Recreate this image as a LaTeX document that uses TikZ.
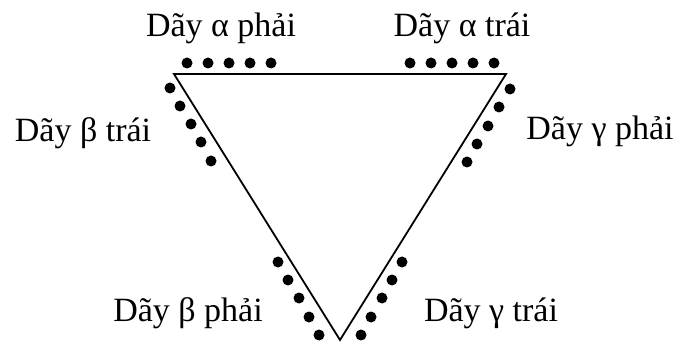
\documentclass[tikz,border=0pt]{standalone}
\usepackage{fontspec}
\setmainfont{Liberation Serif}
\begin{document}
\begin{tikzpicture}[x=1pt,y=-1pt,
  lbl/.style={font=\fontsize{34}{38}\selectfont, inner sep=0pt, anchor=base},
  dot/.style={circle, fill=black, inner sep=0pt, minimum size=11pt},
  edge/.style={line width=1.8pt}]
\useasboundingbox (0,0) rectangle (676,344);
\coordinate (A) at (174,74);
\coordinate (B) at (506,74);
\coordinate (C) at (340,340);
\draw[edge, line join=miter] (A) -- (B) -- (C) -- cycle;
% top dots
\foreach \i/\x in {1/187,2/208,3/229,4/250,5/271} \node[dot] (ta\i) at (\x,63) {};
\foreach \i/\x in {1/410,2/431,3/452,4/473,5/494} \node[dot] (tb\i) at (\x,63) {};
% left upper
\foreach \i/\x/\y in {1/170/88,2/180/106,3/191/124,4/201/142,5/211/161} \node[dot] (lu\i) at (\x,\y) {};
% right upper
\foreach \i/\x/\y in {1/510/89,2/499/107,3/488/126,4/477/144,5/467/162} \node[dot] (ru\i) at (\x,\y) {};
% left lower
\foreach \i/\x/\y in {1/278/262,2/288/280,3/299/298,4/309/317,5/319/335} \node[dot] (ll\i) at (\x,\y) {};
% right lower
\foreach \i/\x/\y in {1/402/262,2/392/280,3/382/298,4/371/317,5/361/335} \node[dot] (rl\i) at (\x,\y) {};
% labels
\node[lbl] (l1) at (221,37) {Dãy α phải};
\node[lbl] (l2) at (462,37) {Dãy α trái};
\node[lbl] (l3) at (83,142) {Dãy β trái};
\node[lbl] (l4) at (600,140) {Dãy γ phải};
\node[lbl] (l5) at (188,321) {Dãy β phải};
\node[lbl] (l6) at (491,321) {Dãy γ trái};
\end{tikzpicture}
\end{document}
